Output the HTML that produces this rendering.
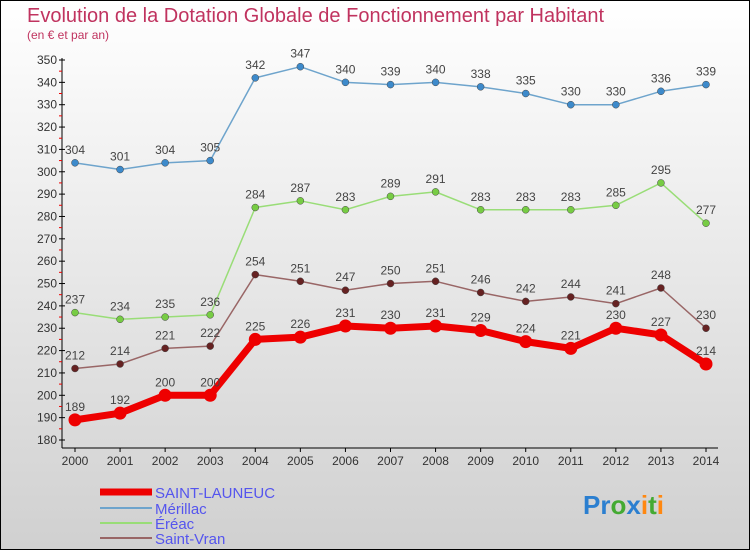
<!DOCTYPE html>
<html><head><meta charset="utf-8"><style>
body{margin:0}
svg{display:block;font-family:"Liberation Sans",sans-serif}
</style></head><body>
<svg width="750" height="550" viewBox="0 0 750 550">
<defs><linearGradient id="bg" x1="0" y1="0" x2="0" y2="1"><stop offset="0" stop-color="#ffffff"/><stop offset="1" stop-color="#d0d0d0"/></linearGradient></defs>
<rect x="0.5" y="0.5" width="749" height="549" fill="url(#bg)" stroke="#000"/>
<text x="27" y="22" font-size="20" fill="#c0335f">Evolution de la Dotation Globale de Fonctionnement par Habitant</text>
<text x="27" y="39" font-size="12" fill="#c0335f">(en € et par an)</text>
<g id="axes"></g>
<g id="series"></g>
<g>
<line x1="100" y1="492" x2="152" y2="492" stroke="#e00" stroke-width="7"/>
<text x="155" y="498" font-size="15" fill="#5555ee">SAINT-LAUNEUC</text>
<line x1="100" y1="508" x2="152" y2="508" stroke="#6ea4cc" stroke-width="2"/>
<text x="155" y="514" font-size="15" fill="#5555ee">Mérillac</text>
<line x1="100" y1="523" x2="152" y2="523" stroke="#99dd77" stroke-width="2"/>
<text x="155" y="529" font-size="15" fill="#5555ee">Éréac</text>
<line x1="100" y1="538" x2="152" y2="538" stroke="#996666" stroke-width="2"/>
<text x="155" y="544" font-size="15" fill="#5555ee">Saint-Vran</text>
</g>
<g font-size="26" font-weight="bold">
<text x="583" y="514"><tspan fill="#2b7fd0">Pr</tspan><tspan fill="#44aa33">o</tspan><tspan fill="#2b7fd0">x</tspan><tspan fill="#ff8811">i</tspan><tspan fill="#44aa33">t</tspan><tspan fill="#ff8811">i</tspan></text>
</g>
</svg>
<script>
const years=[2000,2001,2002,2003,2004,2005,2006,2007,2008,2009,2010,2011,2012,2013,2014];
const saintLauneuc=[189,192,200,200,225,226,231,230,231,229,224,221,230,227,214];
const merillac=[304,301,304,305,342,347,340,339,340,338,335,330,330,336,339];
const ereac=[237,234,235,236,284,287,283,289,291,283,283,283,285,295,277];
const saintVran=[212,214,221,222,254,251,247,250,251,246,242,244,241,248,230];
const yTicks=[180,190,200,210,220,230,240,250,260,270,280,290,300,310,320,330,340,350];
const NS="http://www.w3.org/2000/svg";
const xS=i=>75+i*(706-75)/(years.length-1);
const yS=v=>440-(v-180)*(380/170);
function mk(t,a,p){const e=document.createElementNS(NS,t);for(const k in a)e.setAttribute(k,a[k]);p.appendChild(e);return e;}
const ax=document.getElementById('axes');
const yl=mk('line',{x1:62,y1:58,x2:62,y2:448,stroke:'#000'},ax);


const xl=mk('line',{x1:62,y1:448,x2:718,y2:448,stroke:'#000'},ax);


yTicks.forEach(v=>{
 const y=yS(v);
 mk('line',{x1:59,y1:y,x2:65,y2:y,stroke:'#000'},ax);
 if(v<350) mk('line',{x1:59,y1:y-11.2,x2:62,y2:y-11.2,stroke:'#e00'},ax);
 const t=mk('text',{x:57,y:y+4,'font-size':12,'text-anchor':'end',fill:'#333'},ax);
 t.textContent=v;
 
 
});
years.forEach((yr,i)=>{
 const x=xS(i);
 mk('line',{x1:x,y1:448,x2:x,y2:452,stroke:'#000'},ax);
 const t=mk('text',{x:x,y:465,'font-size':12,'text-anchor':'middle',fill:'#333'},ax);
 t.textContent=yr;
 
 
});
const sg=document.getElementById('series');
function draw(vals,name,color,dot,lw,r){
 const g=mk('g',{},sg);
 
 
 const pl=mk('polyline',{points:vals.map((v,i)=>xS(i)+','+yS(v)).join(' '),fill:'none',stroke:color,'stroke-width':lw,'stroke-linejoin':'round'},g);
 
 
 vals.forEach((v,i)=>{
  const c=mk('circle',{cx:xS(i),cy:yS(v),r:r,fill:dot,stroke:r>4?'none':'#444','stroke-width':0.5},g);
  
  
  const t=mk('text',{x:xS(i),y:yS(v)-9,'font-size':12,'text-anchor':'middle',fill:'#444'},g);
  t.textContent=v;
  
  
 });
}
draw(merillac,'merillac','#6ea4cc','#3d8acb',1.5,3.5);
draw(ereac,'ereac','#99dd77','#77cc44',1.5,3.5);
draw(saintVran,'saint-vran','#996666','#662222',1.5,3.5);
draw(saintLauneuc,'saint-launeuc','#ee0000','#ee0000',7,6.5);
</script>
</body></html>
